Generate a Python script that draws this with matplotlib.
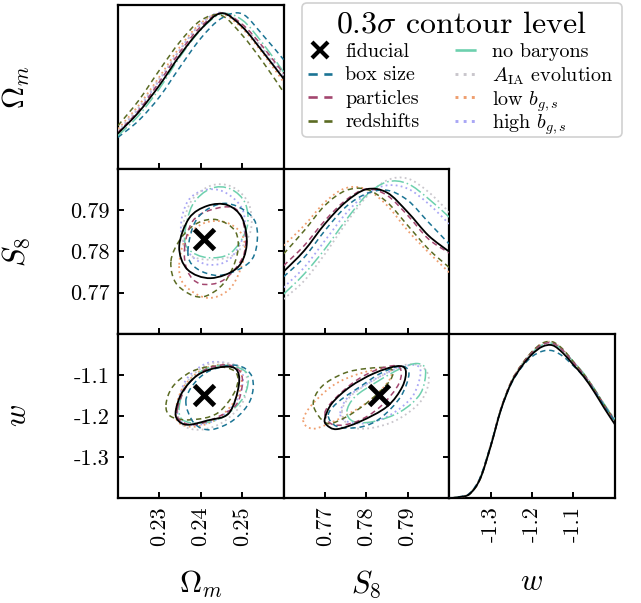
import numpy as np
import matplotlib
matplotlib.use("Agg")
import matplotlib.pyplot as plt
from matplotlib.path import Path
from matplotlib.patches import PathPatch, FancyBboxPatch
from matplotlib.lines import Line2D

plt.rcParams.update({
    'font.family': 'serif',
    'font.serif': ['cmr10'],
    'mathtext.fontset': 'cm',
    'axes.unicode_minus': False,
    'axes.formatter.use_mathtext': True,
    'font.size': 16,
})

# --- data -----------------------------------------------------------------
names = ["fiducial", "box size", "particles", "redshifts",
         "no baryons", "A_IA evolution", "low b", "high b"]
labels = ["fiducial", "box size", "particles", "redshifts", "no baryons",
          r"$A_{\rm IA}$ evolution", r"low $b_{g,s}$", r"high $b_{g,s}$"]

fiducial_point = [0.2407, 0.783, -1.15]   # Omega_m, S8, w

om_lim = (0.22, 0.26)
s8_lim = (0.76, 0.80)
w_lim = (-1.4, -1.0)
om_ticks = [0.23, 0.24, 0.25]
s8_ticks = [0.77, 0.78, 0.79]
w_ticks = [-1.3, -1.2, -1.1]
om_ticklabels = ["0.23", "0.24", "0.25"]
s8_ticklabels = ["0.77", "0.78", "0.79"]
w_ticklabels = ["-1.3", "-1.2", "-1.1"]

# 1D marginals (relative height in panel)
om_grid = [0.22, 0.225, 0.23, 0.235, 0.24, 0.245, 0.25, 0.255, 0.26]
om_pdf = {
    "fiducial":       [0.218, 0.347, 0.510, 0.694, 0.851, 0.949, 0.867, 0.714, 0.551],
    "box size":       [0.194, 0.296, 0.439, 0.622, 0.796, 0.918, 0.945, 0.816, 0.667],
    "particles":      [0.224, 0.357, 0.531, 0.714, 0.867, 0.949, 0.882, 0.745, 0.582],
    "redshifts":      [0.265, 0.418, 0.602, 0.776, 0.905, 0.935, 0.816, 0.653, 0.469],
    "no baryons":     [0.204, 0.327, 0.490, 0.684, 0.847, 0.945, 0.908, 0.765, 0.592],
    "A_IA evolution": [0.235, 0.378, 0.551, 0.724, 0.878, 0.953, 0.878, 0.735, 0.571],
    "low b":          [0.245, 0.388, 0.561, 0.745, 0.888, 0.945, 0.857, 0.704, 0.531],
    "high b":         [0.231, 0.367, 0.541, 0.729, 0.884, 0.953, 0.867, 0.724, 0.561],
}

s8_grid = [0.76, 0.765, 0.77, 0.775, 0.78, 0.785, 0.79, 0.795, 0.80]
s8_pdf = {
    "fiducial":       [0.377, 0.505, 0.668, 0.800, 0.878, 0.858, 0.739, 0.597, 0.499],
    "box size":       [0.346, 0.464, 0.627, 0.770, 0.851, 0.872, 0.811, 0.678, 0.546],
    "particles":      [0.413, 0.536, 0.688, 0.811, 0.880, 0.841, 0.719, 0.576, 0.491],
    "redshifts":      [0.485, 0.627, 0.780, 0.870, 0.878, 0.800, 0.658, 0.515, 0.403],
    "no baryons":     [0.240, 0.363, 0.515, 0.688, 0.841, 0.923, 0.912, 0.821, 0.709],
    "A_IA evolution": [0.210, 0.322, 0.485, 0.668, 0.831, 0.933, 0.943, 0.862, 0.739],
    "low b":          [0.536, 0.658, 0.800, 0.885, 0.878, 0.780, 0.627, 0.495, 0.373],
    "high b":         [0.281, 0.403, 0.566, 0.729, 0.851, 0.902, 0.882, 0.790, 0.668],
}

w_grid = [-1.4, -1.375, -1.35, -1.325, -1.3, -1.275, -1.25, -1.225, -1.2,
          -1.175, -1.15, -1.125, -1.1, -1.075, -1.05, -1.025, -1.0]
w_pdf = {
    "fiducial":       [0.000, 0.006, 0.026, 0.118, 0.312, 0.536, 0.699, 0.800, 0.874,
                       0.921, 0.929, 0.882, 0.811, 0.739, 0.648, 0.546, 0.450],
    "box size":       [0.000, 0.008, 0.030, 0.125, 0.318, 0.536, 0.695, 0.795, 0.860,
                       0.893, 0.896, 0.862, 0.805, 0.740, 0.655, 0.560, 0.470],
    "particles":      [0.000, 0.006, 0.028, 0.120, 0.315, 0.540, 0.705, 0.808, 0.885,
                       0.935, 0.942, 0.898, 0.826, 0.752, 0.662, 0.562, 0.472],
    "redshifts":      [0.000, 0.005, 0.025, 0.115, 0.310, 0.540, 0.708, 0.812, 0.890,
                       0.942, 0.950, 0.905, 0.830, 0.755, 0.665, 0.565, 0.475],
    "no baryons":     [0.000, 0.007, 0.028, 0.122, 0.318, 0.540, 0.703, 0.806, 0.882,
                       0.932, 0.940, 0.898, 0.830, 0.758, 0.668, 0.570, 0.480],
    "A_IA evolution": [0.000, 0.006, 0.026, 0.118, 0.314, 0.540, 0.705, 0.808, 0.886,
                       0.936, 0.945, 0.900, 0.828, 0.756, 0.666, 0.567, 0.476],
    "low b":          [0.000, 0.007, 0.030, 0.125, 0.322, 0.545, 0.708, 0.810, 0.888,
                       0.940, 0.948, 0.902, 0.826, 0.750, 0.660, 0.560, 0.468],
    "high b":         [0.000, 0.006, 0.027, 0.120, 0.316, 0.541, 0.704, 0.807, 0.884,
                       0.934, 0.943, 0.899, 0.828, 0.755, 0.665, 0.566, 0.475],
}

# 0.3 sigma contours, points along each closed curve
om_s8_x = {
    "fiducial":       [0.2348, 0.2372, 0.2416, 0.2464, 0.2500, 0.2511, 0.2488, 0.2424, 0.2368],
    "box size":       [0.2369, 0.2392, 0.2456, 0.2520, 0.2537, 0.2520, 0.2448, 0.2388],
    "particles":      [0.2361, 0.2380, 0.2424, 0.2480, 0.2504, 0.2504, 0.2456, 0.2400, 0.2368],
    "redshifts":      [0.2328, 0.2352, 0.2392, 0.2440, 0.2484, 0.2488, 0.2456, 0.2400, 0.2343],
    "no baryons":     [0.2361, 0.2380, 0.2424, 0.2472, 0.2508, 0.2511, 0.2472, 0.2416, 0.2372],
    "A_IA evolution": [0.2356, 0.2376, 0.2424, 0.2476, 0.2516, 0.2520, 0.2480, 0.2416, 0.2368],
    "low b":          [0.2348, 0.2364, 0.2408, 0.2460, 0.2500, 0.2504, 0.2472, 0.2416, 0.2360],
    "high b":         [0.2352, 0.2368, 0.2408, 0.2456, 0.2500, 0.2504, 0.2468, 0.2416, 0.2372],
}
om_s8_y = {
    "fiducial":       [0.7812, 0.7881, 0.7911, 0.7913, 0.7881, 0.7816, 0.7760, 0.7735, 0.7756],
    "box size":       [0.7800, 0.7881, 0.7917, 0.7889, 0.7840, 0.7776, 0.7742, 0.7760],
    "particles":      [0.7808, 0.7873, 0.7901, 0.7906, 0.7865, 0.7792, 0.7731, 0.7721, 0.7752],
    "redshifts":      [0.7776, 0.7832, 0.7869, 0.7877, 0.7848, 0.7792, 0.7723, 0.7689, 0.7719],
    "no baryons":     [0.7840, 0.7913, 0.7953, 0.7952, 0.7916, 0.7856, 0.7796, 0.7785, 0.7804],
    "A_IA evolution": [0.7848, 0.7921, 0.7960, 0.7957, 0.7916, 0.7848, 0.7792, 0.7780, 0.7796],
    "low b":          [0.7768, 0.7832, 0.7869, 0.7871, 0.7840, 0.7784, 0.7711, 0.7687, 0.7719],
    "high b":         [0.7856, 0.7921, 0.7949, 0.7945, 0.7904, 0.7840, 0.7780, 0.7768, 0.7796],
}

om_w_x = {
    "fiducial":       [0.2340, 0.2356, 0.2392, 0.2440, 0.2484, 0.2492, 0.2468, 0.2416, 0.2368, 0.2344],
    "box size":       [0.2364, 0.2384, 0.2424, 0.2488, 0.2524, 0.2520, 0.2480, 0.2424, 0.2384],
    "particles":      [0.2344, 0.2368, 0.2416, 0.2472, 0.2500, 0.2488, 0.2440, 0.2384, 0.2348],
    "redshifts":      [0.2316, 0.2332, 0.2376, 0.2432, 0.2484, 0.2484, 0.2440, 0.2376, 0.2328],
    "no baryons":     [0.2348, 0.2364, 0.2408, 0.2464, 0.2512, 0.2504, 0.2456, 0.2400, 0.2356],
    "A_IA evolution": [0.2344, 0.2364, 0.2412, 0.2464, 0.2508, 0.2504, 0.2456, 0.2400, 0.2356],
    "low b":          [0.2340, 0.2356, 0.2400, 0.2456, 0.2496, 0.2492, 0.2448, 0.2392, 0.2348],
    "high b":         [0.2344, 0.2364, 0.2412, 0.2460, 0.2500, 0.2492, 0.2448, 0.2396, 0.2352],
}
om_w_y = {
    "fiducial":       [-1.1855, -1.1414, -1.1012, -1.0827, -1.0851, -1.1253, -1.1936, -1.2112, -1.2217, -1.2096],
    "box size":       [-1.1655, -1.1213, -1.0892, -1.0771, -1.1052, -1.1614, -1.2096, -1.2337, -1.2177],
    "particles":      [-1.1815, -1.1253, -1.0851, -1.0771, -1.1052, -1.1695, -1.2032, -1.2217, -1.2096],
    "redshifts":      [-1.1735, -1.1293, -1.0932, -1.0795, -1.0932, -1.1373, -1.1936, -1.2096, -1.2016],
    "no baryons":     [-1.1775, -1.1293, -1.0876, -1.0771, -1.0972, -1.1534, -1.2016, -1.2177, -1.2096],
    "A_IA evolution": [-1.1815, -1.1213, -1.0771, -1.0715, -1.0932, -1.1614, -1.2137, -1.2337, -1.2217],
    "low b":          [-1.1855, -1.1333, -1.0892, -1.0747, -1.0892, -1.1454, -1.2016, -1.2257, -1.2177],
    "high b":         [-1.1775, -1.1133, -1.0731, -1.0715, -1.0932, -1.1534, -1.2032, -1.2217, -1.2137],
}

s8_w_x = {
    "fiducial":       [0.7700, 0.7717, 0.7761, 0.7818, 0.7874, 0.7895, 0.7887, 0.7850, 0.7785, 0.7729, 0.7704],
    "box size":       [0.7708, 0.7733, 0.7785, 0.7834, 0.7883, 0.7903, 0.7883, 0.7834, 0.7785, 0.7729],
    "particles":      [0.7700, 0.7725, 0.7777, 0.7834, 0.7879, 0.7879, 0.7834, 0.7777, 0.7721],
    "redshifts":      [0.7672, 0.7692, 0.7745, 0.7802, 0.7858, 0.7858, 0.7810, 0.7753, 0.7704],
    "no baryons":     [0.7753, 0.7773, 0.7826, 0.7883, 0.7923, 0.7943, 0.7931, 0.7883, 0.7818, 0.7769],
    "A_IA evolution": [0.7741, 0.7765, 0.7826, 0.7891, 0.7935, 0.7951, 0.7931, 0.7874, 0.7810, 0.7761],
    "low b":          [0.7648, 0.7668, 0.7721, 0.7785, 0.7850, 0.7858, 0.7810, 0.7745, 0.7681, 0.7656],
    "high b":         [0.7737, 0.7757, 0.7810, 0.7874, 0.7919, 0.7931, 0.7911, 0.7858, 0.7802, 0.7753],
}
s8_w_y = {
    "fiducial":       [-1.2056, -1.1694, -1.1290, -1.0968, -1.0790, -1.0887, -1.1290, -1.1774, -1.2137, -1.2323, -1.2218],
    "box size":       [-1.1976, -1.1653, -1.1290, -1.0968, -1.0790, -1.0968, -1.1532, -1.2056, -1.2274, -1.2258],
    "particles":      [-1.1935, -1.1573, -1.1129, -1.0847, -1.0806, -1.1210, -1.1774, -1.2137, -1.2218],
    "redshifts":      [-1.1734, -1.1290, -1.0968, -1.0847, -1.0847, -1.1129, -1.1613, -1.2016, -1.2177],
    "no baryons":     [-1.1895, -1.1532, -1.1169, -1.0847, -1.0726, -1.0887, -1.1452, -1.1895, -1.2137, -1.2137],
    "A_IA evolution": [-1.1895, -1.1492, -1.1089, -1.0766, -1.0806, -1.1129, -1.1653, -1.2097, -1.2298, -1.2258],
    "low b":          [-1.2081, -1.1734, -1.1250, -1.0968, -1.0847, -1.1089, -1.1613, -1.2016, -1.2298, -1.2258],
    "high b":         [-1.1935, -1.1532, -1.1169, -1.0847, -1.0766, -1.0968, -1.1532, -1.1976, -1.2177, -1.2137],
}

# --- styles ---------------------------------------------------------------
styles = {
    "fiducial":       dict(color="black", ls="-", lw=1.3),
    "box size":       dict(color="#1b7494", ls=(0, (3.5, 2.5)), lw=1.1),
    "particles":      dict(color="#a3466f", ls=(0, (3.5, 2.5)), lw=1.1),
    "redshifts":      dict(color="#5b6b23", ls=(0, (3.5, 2.5)), lw=1.1),
    "no baryons":     dict(color="#6dd0ae", ls=(0, (8, 2, 1, 2)), lw=1.1),
    "A_IA evolution": dict(color="#c9c6cc", ls=(0, (1, 1.8)), lw=1.3),
    "low b":          dict(color="#ef9e6e", ls=(0, (1, 1.8)), lw=1.3),
    "high b":         dict(color="#a9a6f5", ls=(0, (1, 1.8)), lw=1.3),
}


def smooth_path(xs, ys, closed=False):
    # Catmull-Rom through the read points, drawn as cubic Bezier segments
    p = np.column_stack([xs, ys]).astype(float)
    n = len(p)
    if closed:
        ext = np.vstack([p[-1], p, p[0], p[1]])
        nseg = n
    else:
        ext = np.vstack([p[0], p, p[-1]])
        nseg = n - 1
    verts = [ext[1]]
    codes = [Path.MOVETO]
    for i in range(nseg):
        p0, p1, p2, p3 = ext[i], ext[i + 1], ext[i + 2], ext[i + 3]
        verts += [p1 + (p2 - p0) / 6, p2 - (p3 - p1) / 6, p2]
        codes += [Path.CURVE4] * 3
    return Path(verts, codes)


def draw(ax, xs, ys, name, closed):
    st = styles[name]
    z = 5 if name == "fiducial" else 3
    ax.add_patch(PathPatch(smooth_path(xs, ys, closed), fill=False,
                           edgecolor=st["color"], linestyle=st["ls"],
                           linewidth=st["lw"], zorder=z))


W, H = 641, 603
fig, axes = plt.subplots(3, 3, figsize=(W / 100, H / 100), dpi=100)
fig.subplots_adjust(left=0.184, right=0.959, bottom=0.174, top=0.992,
                    wspace=0, hspace=0)

for ax in [axes[0, 1], axes[0, 2], axes[1, 2]]:
    ax.axis("off")

lims = [om_lim, s8_lim, w_lim]
ticks = [om_ticks, s8_ticks, w_ticks]
ticklabels = [om_ticklabels, s8_ticklabels, w_ticklabels]
axlabels = [r"$\Omega_m$", r"$S_8$", r"$w$"]

# diagonal
for i, (grid, pdf) in enumerate([(om_grid, om_pdf), (s8_grid, s8_pdf),
                                 (w_grid, w_pdf)]):
    ax = axes[i, i]
    for name in names[::-1]:
        draw(ax, grid, pdf[name], name, closed=False)
    ax.set_ylim(0, 1)

# off-diagonal
pairs = [((1, 0), om_s8_x, om_s8_y), ((2, 0), om_w_x, om_w_y),
         ((2, 1), s8_w_x, s8_w_y)]
for (r, c), cx, cy in pairs:
    ax = axes[r, c]
    for name in names[::-1]:
        draw(ax, cx[name], cy[name], name, closed=True)
    ax.plot(fiducial_point[c], fiducial_point[r], marker="x", color="black",
            ms=14, mew=3.5, ls="none", zorder=10)
    ax.set_ylim(*lims[r])
    ax.set_yticks(ticks[r])
    ax.tick_params(axis="y", left=True, right=True)

for i in range(3):
    for j in range(i + 1):
        ax = axes[i, j]
        ax.set_xlim(*lims[j])
        ax.set_xticks(ticks[j])
        for s in ax.spines.values():
            s.set_linewidth(1.6)
        ax.tick_params(direction="in", length=4.5, width=1.4,
                       labelbottom=False, labelleft=False)
        if i == j:
            ax.tick_params(axis="y", left=False, right=False)
        if i == 2:
            ax.set_xticklabels(ticklabels[j], rotation=90)
            ax.tick_params(labelbottom=True, pad=6)
            ax.set_xlabel(axlabels[j], fontsize=22)
            ax.xaxis.set_label_coords(0.5, -0.43)
        if j == 0:
            if i > 0:
                ax.set_yticklabels(ticklabels[i])
                ax.tick_params(labelleft=True, pad=6)
            ax.set_ylabel(axlabels[i], fontsize=22)
            ax.yaxis.set_label_coords(-0.52, 0.5)

# legend drawn by hand so that both columns keep the same row spacing
def fx(px):
    return px / W


def fy(py):
    return 1 - py / H


box = FancyBboxPatch((fx(302), fy(137)), fx(622) - fx(302), fy(3) - fy(137),
                     boxstyle="round,pad=0,rounding_size=0.008",
                     transform=fig.transFigure, facecolor="white",
                     edgecolor="#cccccc", linewidth=1.2, alpha=0.9, zorder=20)
fig.add_artist(box)
fig.text(fx(462), fy(22), r"$0.3\sigma$ contour level", fontsize=23,
         ha="center", va="center_baseline", zorder=21)

col_handle = [(308, 332), (455, 478)]
col_text = [345, 492]
row_y = [50, 73.5, 97, 120.5]
for k, name in enumerate(names):
    col, row = divmod(k, 4)
    y = fy(row_y[row])
    x0, x1 = col_handle[col]
    st = styles[name]
    if name == "fiducial":
        fig.add_artist(Line2D([fx((x0 + x1) / 2)], [y], marker="x",
                              color="black", ms=11, mew=3, ls="none",
                              transform=fig.transFigure, zorder=21))
    else:
        fig.add_artist(Line2D([fx(x0), fx(x1)], [y, y], color=st["color"],
                              ls=st["ls"], lw=st["lw"] + 0.8,
                              transform=fig.transFigure, zorder=21))
    fig.text(fx(col_text[col]), y, labels[k], fontsize=14.5, ha="left",
             va="center_baseline", zorder=21)

fig.savefig("out.png", dpi=100)
